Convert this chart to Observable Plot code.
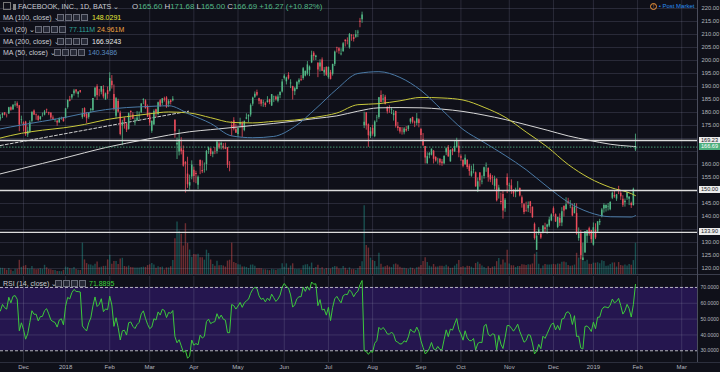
<!DOCTYPE html>
<html><head><meta charset="utf-8">
<script src="https://cdn.jsdelivr.net/npm/d3@7"></script>
<script src="https://cdn.jsdelivr.net/npm/@observablehq/plot@0.6"></script>
<style>
html,body{margin:0;padding:0;background:#0f1019;}
#chart{position:relative;width:720px;height:372px;background:#0f1019;overflow:hidden;font-family:"Liberation Sans",Arial,sans-serif;}
#chart svg{position:absolute;left:0;overflow:visible;}
.lg{position:absolute;white-space:nowrap;font-size:7px;line-height:9px;color:#c9cbd2;}
.ic{position:absolute;width:5px;height:5px;border:1px solid #6a6d7a;background:#262936;}
.tag{position:absolute;left:699px;width:21px;height:7px;font-size:5.6px;line-height:7px;text-align:center;}
.ln{position:absolute;}
</style></head><body><div id="chart"></div><script>
// ---------- DATA (daily bars, 15 Nov 2017 .. 31 Jan 2019) ----------
const open = [
177.5,178.8,179.9,178.8,179.4,181.8,181.0,182.9,183.4,182.6,176.9,
176.0,176.3,171.4,172.5,176.6,180.6,179.2,178.5,177.3,178.3,179.0,181.0,179.9,179.8,177.9,177.1,176.6,176.0,177.9,178.0,
177.7,181.9,184.9,185.6,187.2,188.7,186.9,188.4,178.1,181.5,179.3,178.1,180.9,180.8,186.1,189.9,187.5,187.8,188.8,184.8,188.4,
188.2,192.0,186.9,178.6,184.2,179.7,174.8,177.7,175.6,173.5,180.5,179.0,175.8,176.7,178.7,179.9,184.6,184.5,182.3,
179.0,172.8,175.2,181.1,179.2,184.5,183.5,185.2,185.6,183.2,184.5,184.5,177.0,167.5,164.8,166.1,165.4,160.8,156.3,151.7,155.2,
157.8,156.5,152.0,161.6,157.7,157.8,160.0,165.4,166.0,163.9,164.9,165.0,167.9,167.4,167.0,166.5,166.5,159.8,175.0,176.8,173.4,
171.5,175.2,175.9,173.1,177.4,178.3,179.0,183.2,185.9,187.7,185.3,184.8,183.6,183.5,183.8,184.9,182.5,185.9,186.0,184.3,186.5,187.9,
193.1,191.8,194.3,191.0,190.0,188.0,188.8,191.4,192.7,193.1,194.0,194.8,196.2,199.1,202.8,201.2,199.0,197.5,200.2,195.2,197.3,
193.4,195.3,194.7,198.5,204.9,204.5,202.2,203.4,207.8,207.5,204.9,209.6,208.8,208.9,210.6,215.1,215.7,174.9,179.9,175.3,170.7,
173.9,170.7,177.7,178.1,186.5,184.8,185.9,182.0,180.1,180.8,178.8,180.4,174.5,174.1,172.8,172.2,173.5,173.5,176.3,178.1,176.3,175.9,177.2,
173.5,169.5,166.9,160.3,163.5,163.6,165.1,162.7,162.3,162.0,161.0,160.3,164.5,166.6,161.0,165.8,164.9,166.7,167.0,
163.0,161.6,160.0,161.5,159.4,155.5,157.7,156.8,150.1,156.7,153.3,155.4,159.2,158.5,155.9,155.0,151.6,154.3,149.6,145.8,148.5,143.0,155.0,
151.5,151.8,150.1,149.3,151.5,150.8,147.2,144.5,142.3,143.0,145.6,143.6,137.0,127.0,133.6,133.2,133.5,135.7,135.9,136.3,138.3,
143.0,140.7,135.8,139.3,137.5,143.9,142.7,145.6,143.9,143.4,141.1,141.2,131.5,133.4,123.1,126.0,132.4,135.3,134.5,
129.0,134.7,134.0,137.6,139.9,142.9,143.1,143.7,142.6,147.0,148.1,146.7,150.1,148.9,146.6,145.3,147.1,146.6,145.0,144.2,165.6
];
const high = [
179.1,179.8,180.0,179.4,182.0,182.2,183.0,184.2,184.1,182.6,178.6,
176.4,176.6,174.4,176.8,180.2,181.0,179.4,178.9,178.4,179.8,180.8,181.3,180.1,179.8,178.7,177.5,177.0,178.0,178.2,178.1,
181.6,184.8,186.2,186.9,188.9,188.8,187.9,188.4,181.5,181.8,180.0,180.0,181.5,185.4,189.6,190.7,188.9,190.0,190.3,187.5,189.8,
195.3,194.2,190.6,185.8,185.1,180.5,177.0,178.0,175.8,179.8,180.5,179.9,177.9,180.4,180.2,183.4,185.3,184.9,182.9,
179.8,176.7,181.0,181.3,184.0,185.0,185.4,185.9,186.1,184.9,184.9,186.1,177.2,170.2,173.4,170.3,167.1,161.1,162.8,155.9,161.4,
159.0,157.4,155.6,161.6,161.4,160.6,165.4,166.7,166.1,165.1,166.5,168.9,168.6,168.6,168.1,168.2,166.5,161.1,176.5,178.0,175.5,
174.1,177.8,176.5,176.7,179.5,179.1,183.3,185.9,187.9,188.6,185.5,184.9,184.7,184.0,186.1,185.1,186.9,186.3,186.3,186.8,188.0,192.7,
194.6,193.6,195.3,192.6,190.1,189.6,192.0,193.0,194.2,197.3,195.9,199.6,197.9,203.6,203.4,202.0,199.0,200.3,201.0,197.3,197.6,
197.5,196.2,198.6,203.6,205.1,204.9,204.5,206.9,208.0,208.7,210.4,210.0,209.9,211.5,211.6,216.2,218.6,180.1,179.9,175.6,174.2,
175.1,176.8,178.9,185.8,188.3,186.9,186.6,182.1,182.6,181.9,180.8,180.5,176.2,174.2,174.2,174.2,174.6,175.0,177.7,178.2,176.7,179.6,177.6,
173.9,171.9,166.9,164.5,164.6,165.9,165.4,163.0,162.4,162.2,161.9,163.4,166.4,167.3,165.7,166.1,168.8,170.1,168.8,
163.7,161.7,163.7,161.9,160.1,159.4,160.1,157.1,154.8,156.9,155.6,159.0,160.6,158.7,156.5,155.7,155.5,154.6,152.0,149.0,149.9,146.9,156.4,
152.8,154.1,150.2,150.9,153.4,151.0,147.9,145.0,145.5,145.6,145.8,143.6,137.5,134.1,135.7,133.6,136.4,137.4,137.0,139.7,141.0,
143.7,141.0,139.7,141.0,143.4,144.0,147.2,147.0,146.1,144.8,145.0,144.9,135.6,134.6,129.7,134.2,134.6,135.9,134.6,
137.5,137.2,138.0,138.9,143.1,144.9,144.5,145.0,145.7,149.4,149.9,148.5,151.6,149.8,148.0,146.7,149.4,147.5,145.5,150.9,171.68
];
const low = [
176.7,177.7,178.7,177.9,179.3,180.5,180.9,182.1,181.5,172.6,175.5,
172.5,170.8,170.4,171.9,175.9,178.8,177.0,176.6,176.8,178.3,178.7,179.6,178.8,177.1,177.0,176.2,174.7,175.9,177.0,176.3,
177.5,181.3,184.1,184.8,186.3,187.1,185.6,187.4,177.4,178.0,175.8,177.4,179.6,180.2,185.6,184.6,186.0,186.8,185.2,184.7,185.1,
187.9,189.0,180.6,177.5,179.8,171.0,167.2,173.6,172.3,173.2,176.9,177.3,174.9,176.6,177.2,179.6,183.0,181.3,178.1,
174.8,172.0,175.1,178.0,178.8,182.0,182.7,184.0,181.6,181.9,182.9,184.1,170.1,161.9,163.3,163.7,159.0,149.0,150.8,150.1,154.1,
153.0,152.6,150.3,156.1,156.5,156.7,157.5,163.9,163.1,162.6,163.8,164.0,165.7,165.6,165.6,165.7,158.5,157.2,170.8,172.9,172.0,
170.3,174.0,170.4,172.6,177.2,176.1,178.2,182.4,185.4,186.1,183.0,182.2,182.0,181.9,183.6,183.0,182.3,183.8,184.4,183.7,185.3,187.5,
192.5,190.6,192.5,189.2,184.8,186.5,188.7,190.6,191.9,192.4,193.7,194.1,193.8,198.8,199.9,200.0,193.4,195.6,195.8,193.9,193.9,
192.8,192.5,194.0,197.7,202.9,202.4,201.8,203.2,205.2,206.0,204.4,207.4,207.1,208.5,208.8,212.6,214.3,173.8,173.2,166.6,170.0,
170.9,170.3,176.1,177.4,183.7,183.8,182.9,179.4,179.7,179.2,176.7,174.0,172.8,171.7,171.3,171.4,172.4,172.7,175.5,175.6,174.2,174.9,174.1,
169.3,166.9,160.2,160.1,162.2,163.3,160.2,160.9,160.1,159.5,159.3,159.9,163.4,162.8,160.9,163.4,164.6,166.4,162.6,
161.2,158.7,159.6,158.1,155.5,155.1,156.4,151.3,149.2,151.3,152.2,154.4,157.0,153.2,153.0,152.0,150.2,145.6,146.7,144.5,139.0,141.6,148.8,
149.4,148.5,147.4,147.2,149.3,147.5,143.2,140.7,141.6,141.5,141.1,139.3,130.9,126.9,132.7,131.2,133.3,133.8,133.2,135.7,138.0,
139.9,137.7,135.3,136.2,136.1,139.8,142.4,144.5,143.0,139.9,141.0,132.8,130.5,123.4,123.0,125.9,129.7,132.4,129.7,
128.6,131.1,133.8,136.5,139.5,141.3,141.7,142.1,142.2,146.5,147.0,145.8,148.4,146.2,143.5,143.6,146.2,144.2,143.1,144.0,165.0
];
const close = [
177.95,179.59,179.00,178.74,181.86,180.87,182.78,183.03,182.42,175.13,177.18,
175.10,171.47,172.83,176.06,180.14,179.00,179.04,176.96,178.30,178.39,180.18,180.82,179.51,177.89,177.45,177.20,175.99,177.62,177.92,176.46,
181.42,184.67,184.33,186.85,188.28,187.87,187.84,187.77,179.37,178.39,177.60,179.80,181.29,185.37,189.35,186.55,187.48,190.00,185.98,187.12,186.89,
193.09,190.28,181.26,185.31,180.18,171.58,176.11,176.41,173.15,179.52,179.96,177.36,176.01,177.91,178.99,183.29,184.93,181.46,178.32,
175.94,176.62,180.40,179.78,183.71,182.34,185.23,184.76,181.88,184.19,183.86,185.09,172.56,168.15,169.39,164.89,159.39,160.06,152.22,153.03,159.79,
155.39,156.11,155.10,159.34,157.20,157.93,165.04,166.32,163.87,164.52,164.83,168.66,166.36,168.10,166.28,165.84,159.69,159.69,174.16,173.59,172.00,
173.86,176.07,174.02,176.61,177.97,178.92,182.66,185.53,186.99,186.64,184.32,183.20,183.76,182.68,184.49,183.80,186.90,185.93,184.92,185.93,187.67,191.78,
193.99,193.28,192.94,191.34,188.18,189.10,191.54,192.40,192.41,196.81,195.85,198.31,197.49,202.00,201.50,201.74,196.35,199.00,195.84,196.23,194.32,
197.36,192.73,198.45,203.23,204.74,203.54,202.54,206.42,207.32,207.23,209.99,209.36,208.09,209.94,210.91,214.67,217.50,176.26,174.89,171.06,172.58,
171.65,176.37,177.78,185.69,183.81,185.18,183.09,180.26,180.05,181.11,179.53,174.70,173.80,172.50,172.62,173.64,172.90,174.65,177.46,176.26,175.90,177.64,175.73,
171.16,167.18,162.53,163.04,164.18,165.94,162.00,161.36,162.32,160.58,160.30,163.06,166.02,162.93,165.41,164.91,166.95,168.84,164.46,
162.44,159.33,162.43,158.85,157.33,157.25,157.90,151.38,153.35,153.74,153.52,158.78,159.42,154.92,154.05,154.78,154.39,146.04,150.95,145.37,142.09,146.22,151.79,
151.75,150.35,148.68,149.94,151.53,147.87,144.96,141.55,142.16,144.22,143.85,139.53,131.55,132.43,134.82,131.73,136.38,135.00,136.76,138.68,140.61,
141.09,137.93,139.63,137.42,141.85,142.08,144.50,145.01,144.06,140.19,143.66,133.24,133.40,124.95,124.06,134.18,134.52,133.20,131.09,
135.68,131.74,137.95,138.05,142.53,144.23,144.20,143.80,145.39,148.95,147.54,148.30,150.04,147.57,144.30,145.83,149.01,147.47,144.19,150.42,166.69
];
// volume, millions
const volume = [
15.6,15.3,14.0,10.5,15.0,10.9,7.6,12.9,12.9,35.0,17.6,
20.2,22.0,14.8,13.3,19.6,12.8,11.9,12.7,14.3,12.9,22.7,16.5,12.2,11.7,9.9,10.0,7.2,7.4,7.0,10.3,
18.2,16.9,13.9,13.6,17.0,12.4,10.5,9.6,77.5,36.0,27.0,23.9,23.4,21.1,25.0,31.1,16.8,18.2,20.1,20.3,36.0,
47.8,25.0,32.1,32.0,24.5,38.2,40.0,19.8,18.4,20.9,17.2,16.9,15.8,16.0,16.0,17.0,18.1,17.6,22.0,
24.0,27.4,23.7,15.5,19.2,17.5,18.2,11.1,16.4,16.2,19.1,34.3,88.1,129.9,106.6,99.4,70.2,125.4,76.8,60.4,42.6,
49.2,49.0,50.0,41.4,41.6,35.4,60.0,52.0,35.8,24.9,20.6,33.0,21.8,22.3,21.0,18.3,33.1,35.3,77.5,29.4,27.4,
24.0,23.6,18.4,18.7,17.5,14.9,23.1,23.3,20.5,14.9,14.7,13.9,11.6,11.7,10.8,9.5,12.8,11.5,10.5,12.6,13.2,26.4,
18.0,26.4,15.5,20.9,26.4,12.7,12.6,12.7,11.4,21.3,23.6,24.4,18.9,28.2,14.9,17.0,22.9,14.2,16.5,12.3,15.0,
13.9,13.5,17.5,19.7,18.4,13.3,13.4,19.5,15.5,10.9,16.4,12.0,12.2,10.7,14.2,19.6,31.4,169.8,71.6,65.3,40.4,
34.4,32.1,18.9,52.6,25.3,18.2,19.1,21.5,18.3,17.1,24.1,26.0,23.2,18.1,15.3,15.6,14.4,12.8,16.2,15.2,12.0,16.8,18.2,
22.4,31.8,41.3,29.8,20.5,18.4,24.6,18.3,18.7,20.6,20.2,19.2,22.8,18.8,15.2,15.7,20.8,25.2,34.3,
17.1,18.9,16.6,20.4,19.8,18.0,15.3,27.0,30.0,25.4,20.9,17.3,14.4,19.2,14.6,18.2,19.4,31.7,39.3,23.4,35.5,28.7,60.1,
26.2,21.6,21.4,17.3,19.9,20.0,23.9,23.7,22.1,23.9,23.5,26.1,50.0,54.8,25.2,13.6,21.2,24.6,23.5,23.6,23.9,
25.0,23.8,26.0,25.5,30.2,30.8,29.2,22.0,20.5,21.2,23.3,52.4,40.5,69.0,33.8,31.4,35.0,25.5,25.0,
28.1,28.0,29.0,26.4,34.0,32.2,20.6,21.0,24.5,28.4,28.7,18.5,29.5,22.1,20.8,23.4,20.7,24.4,23.0,34.4,77.1
];
// closes of the 20 sessions before the first bar (RSI warm-up)
const seedClose = [174.56,174.25,174.98,171.27,171.80,170.60,170.63,177.88,179.87,180.06,182.66,178.92,178.92,180.17,180.25,179.56,179.30,178.46,178.77,178.07];

// moving averages (bar index -> value)
const maIdx  = [0,10,20,30,40,50,60,70,80,90,100,110,120,130,140,150,160,170,180,190,200,210,220,230,240,250,260,270,280,290,300,302];
const ma50   = [173.7,175.2,176.6,178.0,179.7,181.1,181.9,182.3,182.6,179.3,175.8,171.0,170.3,170.8,174.6,181.5,189.0,195.0,195.7,193.5,188.5,181.0,173.5,168.5,163.5,158.0,151.5,145.5,141.6,139.9,139.8,140.35];
const ma100  = [170.2,172.0,173.2,174.1,175.4,177.2,178.4,179.4,180.2,179.8,178.0,176.2,176.0,176.6,177.1,178.2,179.8,183.0,183.4,184.5,185.8,185.6,184.8,182.0,178.2,172.5,166.8,160.0,154.8,151.2,148.8,148.03];
const ma200  = [156.4,158.4,160.4,162.4,164.5,166.5,168.2,169.8,171.3,172.6,173.4,174.2,175.0,175.8,176.7,177.7,178.7,180.5,181.8,181.9,181.8,181.3,180.4,179.0,177.3,175.3,173.2,171.0,169.3,167.8,167.0,166.92];

// drawn objects
const trendIdx = [0, 89.5];
const trendVal = [167.3, 180.5];
const levels = [169.23, 150.00, 133.90];
const lastPrice = 166.69;
const rsiBands = [70, 30];
const rsiGrid = [60, 50, 40];
const rsiTicks = [70, 60, 50, 40, 30];
const priceGrid = [120,125,130,135,140,145,150,155,160,165,170,175,180,185,190,195,200,205,210,215,220];
const priceLabels = [120,125,130,140,145,155,160,175,180,185,190,195,200,205,210,215,220];
const monthIdx = [11,31,52,71,92,113,135,156,177,200,219,242,263,282,303,324];
const monthLab = ["Dec","2018","Feb","Mar","Apr","May","Jun","Jul","Aug","Sep","Oct","Nov","Dec","2019","Feb","Mar"];

// ---------- build ----------
const n = close.length;
[open, high, low, volume].forEach((a, k) => { if (a.length !== n) throw new Error("length mismatch " + k + ": " + a.length + " vs " + n); });

const UP = "#53b987", DOWN = "#eb4d5c";
const GRID = "#8a8aa8";
const bars = close.map((c, i) => ({i, o: open[i], h: high[i], l: low[i], c, v: volume[i], up: c >= open[i]}));
const maRows = (vals) => maIdx.map((i, k) => ({i, v: vals[k]}));
const trend = trendIdx.map((i, k) => ({i, v: trendVal[k]}));

// RSI(14), Wilder
const allC = seedClose.concat(close);
const rsi = [];
let ag = 0, al = 0;
for (let k = 1; k < allC.length; k++) {
  const ch = allC[k] - allC[k - 1], g = Math.max(ch, 0), l = Math.max(-ch, 0);
  if (k <= 14) { ag += g / 14; al += l / 14; } else { ag = (ag * 13 + g) / 14; al = (al * 13 + l) / 14; }
  const idx = k - seedClose.length;
  if (k >= 14 && idx >= 0) rsi.push({i: idx, r: al === 0 ? 100 : 100 - 100 / (1 + ag / al)});
}

const xDom = [0.06, 331.5];
const FONT = "'Liberation Sans', Arial, sans-serif";
const chart = document.getElementById("chart");

// volume pane (behind)
const vol = Plot.plot({
  width: 720, height: 274, marginLeft: 0, marginRight: 23, marginTop: 0, marginBottom: 0,
  style: {background: "transparent"},
  x: {domain: xDom, axis: null, label: null},
  y: {domain: [0, 676.5], axis: null, label: null},
  marks: [
    Plot.ruleX(monthIdx, {stroke: GRID, strokeOpacity: 0.22}),
    Plot.ruleX(bars, {x: "i", y1: 0, y2: "v", stroke: d => d.up ? "#26a69a" : "#ef5350", strokeOpacity: 0.42, strokeWidth: 1.4})
  ]
});
vol.style.top = "0px";
chart.appendChild(vol);

// price pane
const price = Plot.plot({
  width: 720, height: 274, marginLeft: 0, marginRight: 23, marginTop: 0, marginBottom: 0,
  style: {background: "transparent", color: "#b2b5be", fontFamily: FONT, fontSize: "6px"},
  x: {domain: xDom, axis: null, label: null},
  y: {domain: [117.69, 223.08], axis: null, label: null},
  marks: [
    Plot.ruleY(priceGrid, {stroke: GRID, strokeOpacity: 0.22}),
    Plot.line(trend, {x: "i", y: "v", stroke: "#d0d0d0", strokeWidth: 1, strokeDasharray: "3,2"}),
    Plot.ruleX(bars, {x: "i", y1: "l", y2: "h", stroke: d => d.up ? UP : DOWN, strokeWidth: 0.8}),
    Plot.ruleX(bars, {x: "i", y1: "o", y2: "c", stroke: d => d.up ? UP : DOWN, strokeWidth: 1.5}),
    Plot.line(maRows(ma200), {x: "i", y: "v", stroke: "#d6d6d6", strokeWidth: 1, curve: "monotone-x"}),
    Plot.line(maRows(ma100), {x: "i", y: "v", stroke: "#c9c93c", strokeWidth: 1, curve: "monotone-x"}),
    Plot.line(maRows(ma50), {x: "i", y: "v", stroke: "#4a7aa6", strokeWidth: 1, curve: "monotone-x"}),
    Plot.ruleY(levels, {stroke: "#dcdcdc", strokeWidth: 1.3}),
    Plot.ruleY([lastPrice], {stroke: UP, strokeWidth: 0.8, strokeDasharray: "1.5,1.5"}),
    Plot.axisY({anchor: "right", label: null, ticks: priceLabels, tickFormat: d => d.toFixed(2), tickSize: 0, tickPadding: 4, fontSize: 5.8, textAnchor: "start"})
  ]
});
price.style.top = "0px";
chart.appendChild(price);

// RSI pane + time axis
const rsiPlot = Plot.plot({
  width: 720, height: 96, marginLeft: 0, marginRight: 23, marginTop: 0, marginBottom: 10,
  style: {background: "transparent", color: "#b2b5be", fontFamily: FONT, fontSize: "6px"},
  x: {domain: xDom, axis: null, label: null},
  y: {domain: [22.6, 76.9], axis: null, label: null},
  marks: [
    Plot.rect([rsiBands], {x1: () => xDom[0], x2: () => xDom[1], y1: d => d[1], y2: d => d[0], fill: "#25164f"}),
    Plot.ruleY(rsiGrid, {stroke: GRID, strokeOpacity: 0.25}),
    Plot.ruleX(monthIdx, {stroke: GRID, strokeOpacity: 0.25}),
    Plot.ruleY(rsiBands, {stroke: "#c8c8d0", strokeWidth: 0.9, strokeDasharray: "3,2"}),
    Plot.line(rsi, {x: "i", y: "r", stroke: "#3cc93c", strokeWidth: 1}),
    Plot.axisY({anchor: "right", label: null, ticks: rsiTicks, tickFormat: d => d.toFixed(4), tickSize: 0, tickPadding: 3, fontSize: 5.1, textAnchor: "start"}),
    Plot.axisX({label: null, ticks: monthIdx, tickFormat: d => monthLab[monthIdx.indexOf(d)], tickSize: 0, tickPadding: 2, fontSize: 6})
  ]
});
rsiPlot.style.top = "276px";
chart.appendChild(rsiPlot);

// separators / axis line
function line(css) { const d = document.createElement("div"); d.className = "ln"; Object.assign(d.style, css); chart.appendChild(d); }
line({left: "0px", top: "274px", width: "720px", height: "1px", background: "#3a3d4c"});
line({left: "697px", top: "0px", width: "1px", height: "362px", background: "#4a4d5c"});
line({left: "0px", top: "362px", width: "720px", height: "1px", background: "#2c2f3d"});

// price tags on the axis
const ys = price.scale("y");
function tag(v, bg, fg) {
  const d = document.createElement("div"); d.className = "tag";
  d.style.top = (ys.apply(v) - 3.5) + "px"; d.style.background = bg; d.style.color = fg;
  d.textContent = v.toFixed(2); chart.appendChild(d);
}
levels.forEach(v => tag(v, "#ececec", "#1a1c26"));
tag(lastPrice, "#4caf7d", "#ffffff");

// legends
function txt(x, y, html, extra) {
  const d = document.createElement("div"); d.className = "lg";
  d.style.left = x + "px"; d.style.top = (y - 4.5) + "px"; d.innerHTML = html;
  if (extra) Object.assign(d.style, extra); chart.appendChild(d);
}
function icons(x, y) { for (let k = 0; k < 4; k++) { const d = document.createElement("div"); d.className = "ic"; d.style.left = (x + k * 8) + "px"; d.style.top = (y - 3.5) + "px"; chart.appendChild(d); } }
const G = (s) => `<span style="color:${UP}">${s}</span>`;
txt(3, 6, `<span style="display:inline-block;width:6px;height:6px;border:1px solid #777;vertical-align:-1px"></span>&nbsp;<span style="display:inline-block;width:3px;height:6px;background:#888;vertical-align:-1px"></span>&nbsp;FACEBOOK, INC., 1D, BATS &#8964;`, {fontSize: "7.2px"});
txt(132, 6, `O${G("165.60")} H${G("171.68")} L${G("165.00")} C${G("166.69")} ${G("+16.27 (+10.82%)")}`, {fontSize: "7.9px"});
txt(3, 17, "MA (100, close) &#8964;"); icons(57, 17); txt(92, 17, `<span style="color:#e8e83a">148.0291</span>`);
txt(3, 29, "Vol (20) &#8964;"); icons(35, 29); txt(69, 29, `<span style="color:#2fa39a">77.111M</span>`); txt(97, 29, `<span style="color:#f0a040">24.961M</span>`);
txt(3, 41, "MA (200, close) &#8964;"); icons(57, 41); txt(92, 41, `<span style="color:#e6e6e6">166.9243</span>`);
txt(3, 52, "MA (50, close) &#8964;"); icons(54, 52); txt(88, 52, `<span style="color:#5a8cc0">140.3486</span>`);
txt(3, 283, "RSI (14, close) &#8964;"); icons(55, 283); txt(89, 283, `<span style="color:#3cd23c">71.8895</span>`);
txt(650, 6, `<span style="display:inline-block;width:5px;height:5px;border:1px solid #f0963c;border-radius:50%;color:#f0963c;font-size:5px;line-height:5px;text-align:center">!</span>&nbsp;<span style="color:#2a8ff0">&#8226; Post Market</span>`, {fontSize: "6px"});
</script></body></html>
